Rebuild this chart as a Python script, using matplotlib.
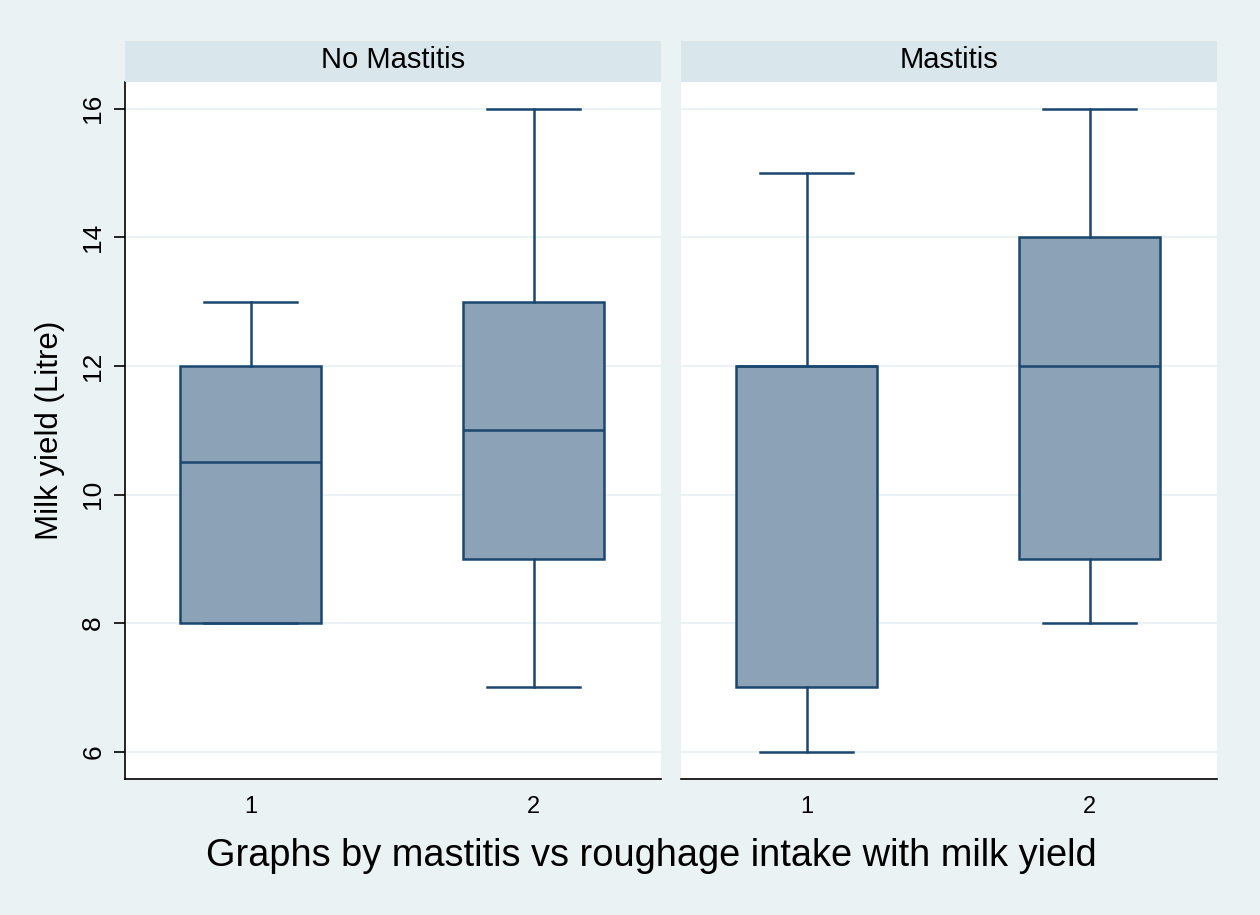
import matplotlib.pyplot as plt

plt.rcParams['font.family'] = ['Liberation Sans', 'DejaVu Sans']

# five-number summaries per roughage group, split by mastitis status
panels = ["No Mastitis", "Mastitis"]
groups = ["1", "2"]
whisk_lo = [[8, 7], [6, 8]]
q1 = [[8, 9], [7, 9]]
median = [[10.5, 11], [12, 12]]
q3 = [[12, 13], [12, 14]]
whisk_hi = [[13, 16], [15, 16]]
yticks = [6, 8, 10, 12, 14, 16]

bg = "#eaf2f3"
strip_col = "#d9e6eb"
navy = "#1a476f"
fill = "#8ca3b7"

fig = plt.figure(figsize=(12.6, 9.15), dpi=100)
fig.patch.set_facecolor(bg)

lefts = [0.099, 0.5402]
width = 0.4254
bottom, height = 0.1486, 0.762
strip_h = 0.0442
lw = 1.8

for p, name in enumerate(panels):
    ax = fig.add_axes([lefts[p], bottom, width, height])
    ax.set_facecolor("white")
    stats = []
    for g in range(len(groups)):
        stats.append(dict(whislo=whisk_lo[p][g], q1=q1[p][g], med=median[p][g],
                          q3=q3[p][g], whishi=whisk_hi[p][g], fliers=[]))
    ax.bxp(stats, positions=[1, 2], widths=0.5, patch_artist=True, showfliers=False,
           boxprops=dict(facecolor=fill, edgecolor=navy, linewidth=lw),
           medianprops=dict(color=navy, linewidth=lw),
           whiskerprops=dict(color=navy, linewidth=lw),
           capprops=dict(color=navy, linewidth=lw),
           capwidths=0.33, zorder=3)
    ax.set_xlim(0.555, 2.449)
    ax.set_ylim(5.575, 16.42)
    ax.set_yticks(yticks)
    ax.set_xticks([1, 2])
    ax.set_xticklabels(groups, fontsize=17)
    ax.tick_params(axis="x", length=0, pad=12)
    for y in yticks:
        ax.axhline(y, color=bg, linewidth=1.5, zorder=1)
    for s in ["top", "right"]:
        ax.spines[s].set_visible(False)
    ax.spines["bottom"].set_linewidth(1.2)
    if p == 0:
        ax.set_yticklabels([str(t) for t in yticks], fontsize=19, rotation=90, va="center")
        ax.tick_params(axis="y", length=8, width=1.2, pad=6)
        ax.spines["left"].set_linewidth(1.2)
        ax.set_ylabel("Milk yield (Litre)", fontsize=22.5, labelpad=12)
    else:
        ax.spines["left"].set_visible(False)
        ax.tick_params(axis="y", length=0, labelleft=False)

    # panel header strip
    sax = fig.add_axes([lefts[p], bottom + height, width, strip_h])
    sax.set_facecolor(strip_col)
    sax.set_xticks([])
    sax.set_yticks([])
    for s in sax.spines.values():
        s.set_visible(False)
    sax.text(0.5, 0.55, name, ha="center", va="center", fontsize=21,
             transform=sax.transAxes)

fig.text(0.517, 0.064, "Graphs by mastitis vs roughage intake with milk yield",
         ha="center", va="center", fontsize=27.4)

fig.savefig("out.png", dpi=100, facecolor=bg)
